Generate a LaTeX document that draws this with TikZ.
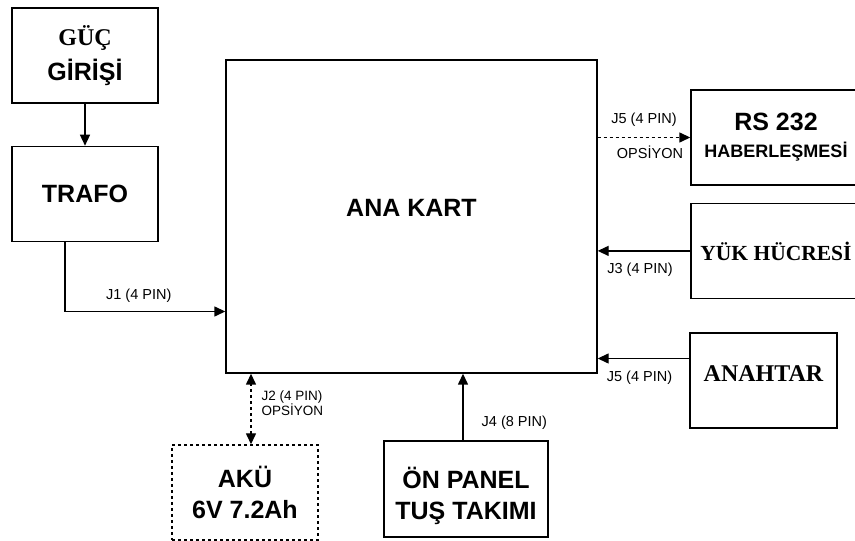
\documentclass[tikz,border=0pt]{standalone}
\usepackage{fontspec}
\setmainfont{Liberation Sans}
\newfontfamily\serifbf{Liberation Serif}
\usetikzlibrary{positioning, arrows.meta}

\begin{document}
\begin{tikzpicture}[
  x=1pt, y=1pt,
  node distance=42pt,
  box/.style={
    draw, line width=1.4pt, inner sep=0pt, align=center,
    minimum width=146pt, minimum height=95pt,
    font=\fontsize{25}{31}\selectfont\bfseries
  },
  optbox/.style={box, dashed},
  flow/.style={-{Triangle[length=11pt, width=10pt]}, line width=1.4pt},
  optflow/.style={flow, dashed},
  pin/.style={font=\fontsize{14.5}{15}\selectfont, inner sep=2pt},
]
\useasboundingbox (0,0) rectangle (855,541);

% Power side
\node[box] (guc) at (85,485.5)
  {{\serifbf\fontsize{24}{29}\selectfont\bfseries GÜÇ}\\[4pt]GİRİŞİ};
\node[box, below=of guc] (trafo) {TRAFO};

% Main board
\node[box, minimum width=371pt, minimum height=313pt,
      label={[font=\fontsize{25}{31}\selectfont\bfseries, yshift=9pt]center:ANA KART}]
      (anakart) at (411.5,324.5) {};

% Right side peripherals
\node[box, minimum width=170pt] (rs) at (776,403.5)
  {RS 232\\[-4pt]{\fontsize{18}{22}\selectfont HABERLEŞMESİ}};
\node[box, minimum width=170pt, below=17pt of rs] (yuk)
  {\serifbf\fontsize{21.5}{26}\selectfont\bfseries YÜK HÜCRESİ};
\node[box, minimum width=147pt, text depth=14pt] (anahtar) at (763.5,160.5)
  {\serifbf\fontsize{24}{29}\selectfont\bfseries ANAHTAR};

% Bottom peripherals
\node[optbox] (aku) at (245,48.5) {AKÜ\\6V 7.2Ah};
\node[box, minimum width=164pt, minimum height=96pt] (onpanel) at (466,52)
  {\rule{0pt}{36pt}ÖN PANEL\\TUŞ TAKIMI};

% Connections
\draw[flow] (guc.south) -- (trafo.north);
\draw[flow] ([xshift=-20pt]trafo.south) |- ([yshift=-95pt]anakart.west)
  node[pin, pos=0.73, above=6pt] {J1 (4 PIN)};
\draw[optflow] (anakart.east |- rs.west) -- (rs.west)
  node[pin, midway, above=8pt] {J5 (4 PIN)}
  node[pin, midway, below=6pt, xshift=6pt] {OPSİYON};
\draw[flow] (yuk.west) -- (yuk.west -| anakart.east)
  node[pin, midway, below=9pt, xshift=-4pt] {J3 (4 PIN)};
\draw[flow] ([yshift=22pt]anahtar.west) -- ([yshift=22pt]anahtar.west -| anakart.east)
  node[pin, midway, below=10pt, xshift=-4pt] {J5 (4 PIN)};
\draw[optflow, {Triangle[length=11pt, width=10pt]}-{Triangle[length=11pt, width=10pt]}]
  ([xshift=6pt]aku.north) -- ([xshift=6pt]aku.north |- anakart.south)
  node[pin, pos=0.58, right=8pt, align=left, font=\fontsize{13.5}{14.5}\selectfont] {J2 (4 PIN)\\OPSİYON};
\draw[flow] ([xshift=-3pt]onpanel.north) -- ([xshift=-3pt]onpanel.north |- anakart.south)
  node[pin, pos=0.27, right=16pt] {J4 (8 PIN)};
\end{tikzpicture}
\end{document}
